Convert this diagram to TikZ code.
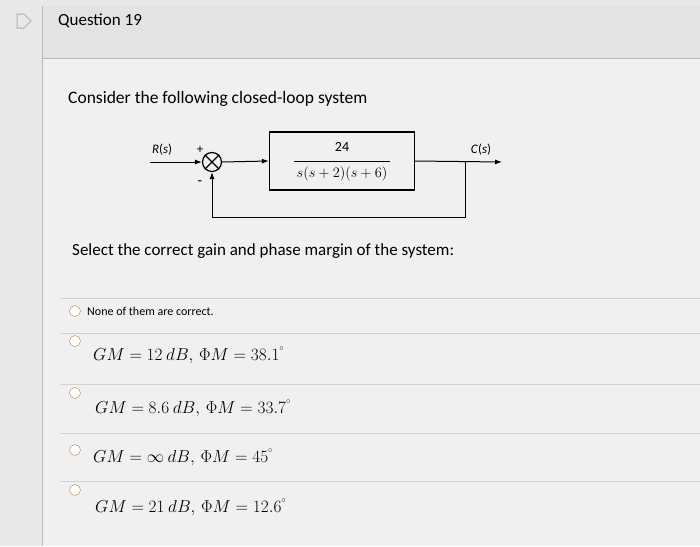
\documentclass[tikz,border=0pt]{standalone}
\usepackage{fontspec}
\setmainfont{Carlito}
\usetikzlibrary{arrows.meta}
\newcommand{\fs}[1]{\fontsize{#1}{#1}\selectfont}
\begin{document}
\begin{tikzpicture}[x=1pt,y=-1pt,
  lbl/.style={anchor=west,inner sep=0pt},
  radio/.style={circle,draw=orange!50!gray,fill=white,minimum size=11pt,inner sep=0pt},
  sep/.style={draw=gray!35,line width=0.8pt},
  sig/.style={line width=1pt,-{Latex[length=7pt,width=5pt]}},
  wire/.style={line width=1pt}]
\useasboundingbox (0,0) rectangle (700,546);
\fill[gray!18] (0,0) rectangle (700,546);
\fill[gray!22] (42,6) rectangle (700,58);
\draw[gray!55] (42,6) -- (42,546);
\draw[gray!55] (42,58) -- (700,58);
\fill[gray!12] (43,59) rectangle (700,546);
% D icon
\draw[gray!60,line width=1pt] (17,14) -- (24,14) -- (31,21) -- (24,28) -- (17,28) -- cycle;
\node[lbl,font=\fs{17}] (q) at (58,21) {Question 19};
\node[lbl,font=\fs{17.5}] (c) at (68,99) {Consider the following closed-loop system};
% block diagram
\node[draw,line width=1.4pt,minimum width=145pt,minimum height=58pt,inner sep=0pt] (G) at (342,161) {};
\node[font=\fs{14}] (num) at (342,147) {24};
\node[font=\fs{14}] (den) at (342,174) {$s(s+2)(s+6)$};
\draw[line width=0.6pt] (294,161) -- (390,161);
\node[circle,draw,line width=1.2pt,minimum size=19pt,inner sep=0pt] (S) at (212,162) {};
\draw[line width=1.2pt] (S.north west) -- (S.south east) (S.north east) -- (S.south west);
\coordinate (in) at (150,162);
\coordinate (out) at (502,162);
\coordinate (tap) at (465,162);
\coordinate (fb1) at (465,217);
\coordinate (fb2) at (212,217);
\draw[sig] (in) -- (S.west);
\draw[sig] (S.east) -- (G.west);
\draw[sig] (G.east) -- (out);
\draw[wire] (tap) -- (fb1) -- (fb2);
\draw[sig] (fb2) -- (S.south);
\node[font=\fs{13}] (R) at (162,150) {\textit{R}(\textit{s})};
\node[font=\fs{13}] (p) at (200,150) {+};
\node[font=\fs{15}] (m) at (200,183) {-};
\node[font=\fs{13}] (C) at (481,150) {\textit{C}(\textit{s})};
\node[lbl,font=\fs{17}] (sel) at (72,251) {Select the correct gain and phase margin of the system:};
% options
\draw[sep] (60,298) -- (700,298);
\draw[sep] (60,333) -- (700,333);
\draw[sep] (60,384) -- (700,384);
\draw[sep] (60,433) -- (700,433);
\draw[sep] (60,481) -- (700,481);
\node[radio] (r1) at (75,311) {};
\node[lbl,font=\fs{12}] (t1) at (87,311) {None of them are correct.};
\node[radio] (r2) at (75,341) {};
\node[lbl,font=\fs{16}] (t2) at (93,355) {$GM=12\ dB,\,\Phi M=38.1^{^\circ}$};
\node[radio] (r3) at (75,393) {};
\node[lbl,font=\fs{16}] (t3) at (95,408) {$GM=8.6\ dB,\,\Phi M=33.7^{^\circ}$};
\node[radio] (r4) at (75,450) {};
\node[lbl,font=\fs{16}] (t4) at (93,457) {$GM=\infty\ dB,\,\Phi M=45^{^\circ}$};
\node[radio] (r5) at (75,490) {};
\node[lbl,font=\fs{16}] (t5) at (95,507) {$GM=21\ dB,\,\Phi M=12.6^{^\circ}$};
\end{tikzpicture}
\end{document}
